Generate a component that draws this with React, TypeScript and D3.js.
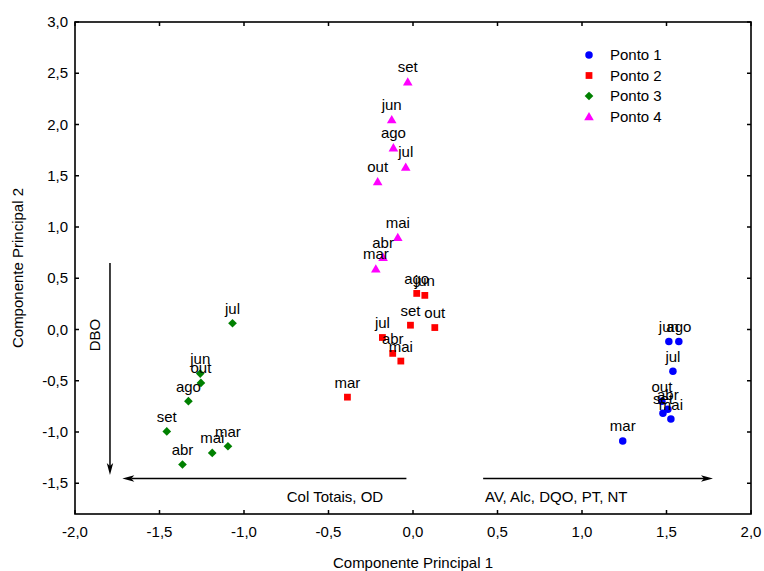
import React from "react";
import * as d3 from "d3";

// Monthly scores on the first two principal components, per sampling point
const months1 = ["jun", "ago", "jul", "out", "abr", "set", "mai", "mar"];
const pc1_p1 = [1.514, 1.573, 1.538, 1.473, 1.508, 1.479, 1.526, 1.241];
const pc2_p1 = [-0.117, -0.117, -0.408, -0.699, -0.777, -0.816, -0.874, -1.087];

const months2 = ["ago", "jun", "set", "out", "jul", "abr", "mai", "mar"];
const pc1_p2 = [0.022, 0.07, -0.015, 0.129, -0.181, -0.12, -0.072, -0.388];
const pc2_p2 = [0.352, 0.333, 0.042, 0.019, -0.078, -0.233, -0.308, -0.66];

const months3 = ["jul", "jun", "out", "ago", "set", "abr", "mai", "mar"];
const pc1_p3 = [-1.068, -1.259, -1.255, -1.329, -1.457, -1.364, -1.188, -1.095];
const pc2_p3 = [0.061, -0.43, -0.521, -0.699, -0.994, -1.317, -1.204, -1.139];

const months4 = ["set", "jun", "ago", "jul", "out", "mai", "abr", "mar"];
const pc1_p4 = [-0.031, -0.126, -0.116, -0.043, -0.209, -0.09, -0.177, -0.22];
const pc2_p4 = [2.417, 2.049, 1.774, 1.586, 1.443, 0.9, 0.706, 0.592];

const seriesNames = ["Ponto 1", "Ponto 2", "Ponto 3", "Ponto 4"];
const seriesColors = ["#0000ff", "#ff0000", "#008000", "#ff00ff"];

const xTicks = [-2, -1.5, -1, -0.5, 0, 0.5, 1, 1.5, 2];
const yTicks = [-1.5, -1, -0.5, 0, 0.5, 1, 1.5, 2, 2.5, 3];

// Variable loading directions: [x1, y1, x2, y2] in component units
const arrowDBO = [-1.793, 0.65, -1.793, -1.42];
const arrowCol = [-0.039, -1.453, -1.72, -1.453];
const arrowAV = [0.415, -1.453, 1.775, -1.453];
const arrowLabels = ["DBO", "Col Totais, OD", "AV, Alc, DQO, PT, NT"];

const W = 764;
const H = 571;
const left = 75;
const right = 751;
const top = 22;
const bottom = 514;
const font = "'Liberation Sans', Arial, sans-serif";

export default function App() {
  const x = d3.scaleLinear().domain([-2, 2]).range([left, right]);
  const y = d3.scaleLinear().domain([-1.8, 3]).range([bottom, top]);
  const fmt = (v: number) => v.toFixed(1).replace(".", ",");

  const series = [
    { labels: months1, xs: pc1_p1, ys: pc2_p1 },
    { labels: months2, xs: pc1_p2, ys: pc2_p2 },
    { labels: months3, xs: pc1_p3, ys: pc2_p3 },
    { labels: months4, xs: pc1_p4, ys: pc2_p4 },
  ];

  const symbolPath = (i: number) => {
    if (i === 0) return d3.symbol(d3.symbolCircle, 44)() as string;
    if (i === 1) return d3.symbol(d3.symbolSquare, 46)() as string;
    if (i === 2) return d3.symbol(d3.symbolSquare, 38)() as string;
    return d3.symbol(d3.symbolTriangle, 40)() as string;
  };
  const symbolTransform = (i: number, cx: number, cy: number) =>
    i === 2 ? `translate(${cx},${cy}) rotate(45)` : `translate(${cx},${cy + (i === 3 ? 1 : 0)})`;

  const arrow = (a: number[], key: string) => {
    const x1 = x(a[0]);
    const y1 = y(a[1]);
    const x2 = x(a[2]);
    const y2 = y(a[3]);
    const ang = Math.atan2(y2 - y1, x2 - x1);
    const len = 12;
    const hw = 3.2;
    const notch = 3;
    const ux = Math.cos(ang);
    const uy = Math.sin(ang);
    const px = -uy;
    const py = ux;
    const bx = x2 - ux * len;
    const by = y2 - uy * len;
    const head = [
      [x2, y2],
      [bx + px * hw, by + py * hw],
      [bx + ux * notch, by + uy * notch],
      [bx - px * hw, by - py * hw],
    ];
    return (
      <g key={key}>
        <line x1={x1} y1={y1} x2={bx + ux * notch} y2={by + uy * notch} stroke="#000" strokeWidth={1.5} />
        <path d={"M" + head.map((p) => p.join(",")).join("L") + "Z"} fill="#000" />
      </g>
    );
  };

  return (
    <div style={{ position: "absolute", left: 0, top: 0 }}>
      <svg width={W} height={H} style={{ display: "block", background: "#fff" }} fontFamily={font}>
        <rect x={0} y={0} width={W} height={H} fill="#fff" />

        {/* frame */}
        <rect x={left} y={top} width={right - left} height={bottom - top} fill="none" stroke="#000" strokeWidth={1.6} />

        {/* ticks on all four sides, pointing inward */}
        {xTicks.map((t) => (
          <g key={"xt" + t}>
            <line x1={x(t)} x2={x(t)} y1={bottom} y2={bottom - 4} stroke="#000" strokeWidth={1.5} />
            <line x1={x(t)} x2={x(t)} y1={top} y2={top + 4} stroke="#000" strokeWidth={1.5} />
            <text x={x(t)} y={537} fontSize={15} textAnchor="middle" fill="#000">
              {fmt(t)}
            </text>
          </g>
        ))}
        {yTicks.map((t) => (
          <g key={"yt" + t}>
            <line x1={left} x2={left + 4} y1={y(t)} y2={y(t)} stroke="#000" strokeWidth={1.5} />
            <line x1={right} x2={right - 4} y1={y(t)} y2={y(t)} stroke="#000" strokeWidth={1.5} />
            <text x={68} y={y(t) + 5} fontSize={15} textAnchor="end" fill="#000">
              {fmt(t)}
            </text>
          </g>
        ))}

        {/* axis titles */}
        <text x={(left + right) / 2} y={568} fontSize={15} textAnchor="middle" fill="#000">
          Componente Principal 1
        </text>
        <text
          transform={`translate(23,${(top + bottom) / 2}) rotate(-90)`}
          fontSize={15}
          textAnchor="middle"
          fill="#000"
        >
          Componente Principal 2
        </text>

        {/* loading arrows */}
        {arrow(arrowDBO, "a1")}
        {arrow(arrowCol, "a2")}
        {arrow(arrowAV, "a3")}
        <text transform={`translate(100,335) rotate(-90)`} fontSize={15} textAnchor="middle" fill="#000">
          {arrowLabels[0]}
        </text>
        <text x={335} y={502} fontSize={15} textAnchor="middle" fill="#000">
          {arrowLabels[1]}
        </text>
        <text x={485} y={502} fontSize={15} textAnchor="start" fill="#000">
          {arrowLabels[2]}
        </text>

        {/* points and month labels */}
        {series.map((s, si) => (
          <g key={"s" + si}>
            {s.xs.map((v, j) => (
              <path
                key={"p" + j}
                d={symbolPath(si)}
                transform={symbolTransform(si, x(v), y(s.ys[j]))}
                fill={seriesColors[si]}
              />
            ))}
            {s.xs.map((v, j) => (
              <text
                key={"l" + j}
                x={x(v)}
                y={y(s.ys[j]) - 9.5}
                fontSize={15}
                textAnchor="middle"
                fill="#000"
              >
                {s.labels[j]}
              </text>
            ))}
          </g>
        ))}

        {/* legend */}
        {seriesNames.map((n, i) => {
          const ly = 55 + i * 20.5;
          return (
            <g key={"lg" + i}>
              <path d={symbolPath(i)} transform={symbolTransform(i, 589, ly)} fill={seriesColors[i]} />
              <text x={610} y={ly + 5} fontSize={15} fill="#000">
                {n}
              </text>
            </g>
          );
        })}
      </svg>
    </div>
  );
}
